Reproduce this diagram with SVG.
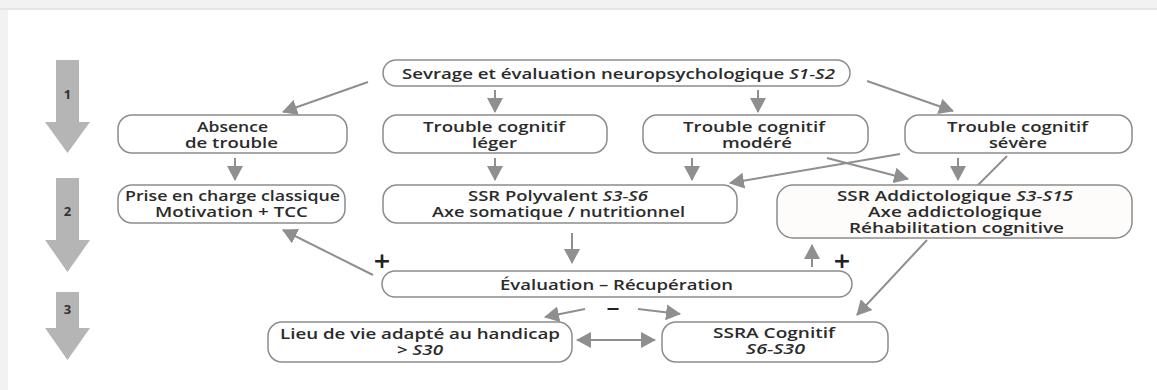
<svg xmlns="http://www.w3.org/2000/svg" width="1157" height="390" viewBox="0 0 1157 390">
<style>
.box{fill:#ffffff;stroke:#8c8c8c;stroke-width:1.5}
.t{font-family:"Open Sans","Liberation Sans",sans-serif;font-weight:600;font-size:13.5px;fill:#2b2b2b}
.i{font-style:italic}
.c{stroke:#8f8f8f;stroke-width:2;fill:none}
.a{marker-end:url(#ah)}
.big{fill:#b5b5b5}
.num{font-family:"Open Sans","Liberation Sans",sans-serif;font-weight:700;font-size:13px;fill:#333;text-anchor:middle}
.sign{font-family:"DejaVu Sans",sans-serif;font-weight:700;font-size:22px;fill:#222;text-anchor:middle}
</style>
<defs>
<marker id="ah" markerUnits="userSpaceOnUse" markerWidth="15" markerHeight="16" refX="14" refY="8" orient="auto-start-reverse">
<path d="M0,0 L15,8 L0,16 Z" fill="#8f8f8f"/>
</marker>
</defs>
<rect x="0" y="0" width="1157" height="390" fill="#f2f2f2"/>
<rect x="0" y="8" width="1157" height="2" fill="#e6e6e6"/>
<rect x="8" y="10" width="1149" height="380" fill="#ffffff"/>

<g id="steps">
<path class="big" d="M56,60 L79,60 L79,122 L90,122 L67.5,153 L45,122 L56,122 Z"/>
<path class="big" d="M56,178 L79,178 L79,240 L90,240 L67.5,272 L45,240 L56,240 Z"/>
<path class="big" d="M56,292 L79,292 L79,328 L90,328 L67.5,360 L45,328 L56,328 Z"/>
<text class="num" x="67.5" y="99">1</text>
<text class="num" x="67.5" y="216">2</text>
<text class="num" x="67.5" y="314">3</text>
</g>

<g id="connectors">
<line class="c a" x1="368" y1="82" x2="283" y2="112"/>
<line class="c a" x1="495" y1="90" x2="495" y2="112"/>
<line class="c a" x1="758" y1="90" x2="758" y2="112"/>
<line class="c a" x1="867" y1="81" x2="953" y2="111"/>
<line class="c a" x1="235" y1="158" x2="235" y2="180"/>
<line class="c a" x1="495" y1="158" x2="495" y2="180"/>
<line class="c a" x1="692" y1="158" x2="692" y2="180"/>
<line class="c a" x1="900" y1="154" x2="730" y2="183"/>
<line class="c a" x1="827" y1="158" x2="908" y2="179"/>
<line class="c a" x1="958" y1="158" x2="958" y2="180"/>
<line class="c" x1="1007" y1="156" x2="978" y2="185"/>
<line class="c a" x1="572" y1="233" x2="572" y2="263"/>
<line class="c a" x1="373" y1="275" x2="283" y2="230"/>
<line class="c a" x1="812" y1="267" x2="812" y2="245"/>
<line class="c a" x1="585" y1="309" x2="545" y2="317"/>
<line class="c a" x1="638" y1="309" x2="680" y2="314"/>
<line class="c a" x1="577" y1="340" x2="655" y2="340" marker-start="url(#ah)"/>
<line class="c a" x1="927" y1="240" x2="857" y2="315"/>
<text class="sign" x="382" y="268">+</text>
<text class="sign" x="842" y="268">+</text>
<text x="606" y="313" style="font-family:'DejaVu Sans',sans-serif;font-weight:700;font-size:16px;fill:#222" textLength="14" lengthAdjust="spacingAndGlyphs">–</text>
</g>

<g id="sevrage">
<rect class="box" x="383" y="60" width="467" height="26" rx="13"/>
<text class="t" x="402" y="79" textLength="433" lengthAdjust="spacingAndGlyphs">Sevrage et évaluation neuropsychologique <tspan class="i">S1-S2</tspan></text>
</g>

<g id="absence">
<rect class="box" x="118" y="115" width="229" height="38" rx="14"/>
<text class="t" x="197" y="132" textLength="71" lengthAdjust="spacingAndGlyphs">Absence</text>
<text class="t" x="185" y="148" textLength="93" lengthAdjust="spacingAndGlyphs">de trouble</text>
</g>

<g id="leger">
<rect class="box" x="383" y="115" width="224" height="38" rx="14"/>
<text class="t" x="423" y="132" textLength="142" lengthAdjust="spacingAndGlyphs">Trouble cognitif</text>
<text class="t" x="472" y="148" textLength="45" lengthAdjust="spacingAndGlyphs">léger</text>
</g>

<g id="modere">
<rect class="box" x="643" y="115" width="225" height="38" rx="14"/>
<text class="t" x="683" y="132" textLength="142" lengthAdjust="spacingAndGlyphs">Trouble cognitif</text>
<text class="t" x="722" y="148" textLength="70" lengthAdjust="spacingAndGlyphs">modéré</text>
</g>

<g id="severe">
<rect class="box" x="905" y="115" width="227" height="38" rx="14"/>
<text class="t" x="947" y="132" textLength="141" lengthAdjust="spacingAndGlyphs">Trouble cognitif</text>
<text class="t" x="989" y="148" textLength="58" lengthAdjust="spacingAndGlyphs">sévère</text>
</g>

<g id="prise">
<rect class="box" x="118" y="185" width="227" height="38" rx="14"/>
<text class="t" x="125" y="201" textLength="215" lengthAdjust="spacingAndGlyphs">Prise en charge classique</text>
<text class="t" x="155" y="217" textLength="153" lengthAdjust="spacingAndGlyphs">Motivation + TCC</text>
</g>

<g id="polyvalent">
<rect class="box" x="383" y="185" width="354" height="38" rx="14"/>
<text class="t" x="468" y="201" textLength="180" lengthAdjust="spacingAndGlyphs">SSR Polyvalent <tspan class="i">S3-S6</tspan></text>
<text class="t" x="432" y="217" textLength="253" lengthAdjust="spacingAndGlyphs">Axe somatique / nutritionnel</text>
</g>

<g id="addictologique">
<rect class="box" x="777" y="185" width="355" height="53" rx="16" style="fill:#fdfcfa"/>
<text class="t" x="837" y="201" textLength="236" lengthAdjust="spacingAndGlyphs">SSR Addictologique <tspan class="i">S3-S15</tspan></text>
<text class="t" x="868" y="217" textLength="174" lengthAdjust="spacingAndGlyphs">Axe addictologique</text>
<text class="t" x="849" y="233" textLength="215" lengthAdjust="spacingAndGlyphs">Réhabilitation cognitive</text>
</g>

<g id="evaluation">
<rect class="box" x="382" y="271" width="470" height="26" rx="13"/>
<text class="t" x="500" y="290" textLength="233" lengthAdjust="spacingAndGlyphs">Évaluation – Récupération</text>
</g>

<g id="lieu">
<rect class="box" x="268" y="322" width="304" height="40" rx="14"/>
<text class="t" x="280" y="339" textLength="280" lengthAdjust="spacingAndGlyphs">Lieu de vie adapté au handicap</text>
<text class="t" x="397" y="355" textLength="46" lengthAdjust="spacingAndGlyphs">&gt; <tspan class="i">S30</tspan></text>
</g>

<g id="ssra">
<rect class="box" x="662" y="322" width="226" height="40" rx="14"/>
<text class="t" x="713" y="338" textLength="122" lengthAdjust="spacingAndGlyphs">SSRA Cognitif</text>
<text class="t i" x="746" y="354" textLength="59" lengthAdjust="spacingAndGlyphs">S6-S30</text>
</g>
</svg>
